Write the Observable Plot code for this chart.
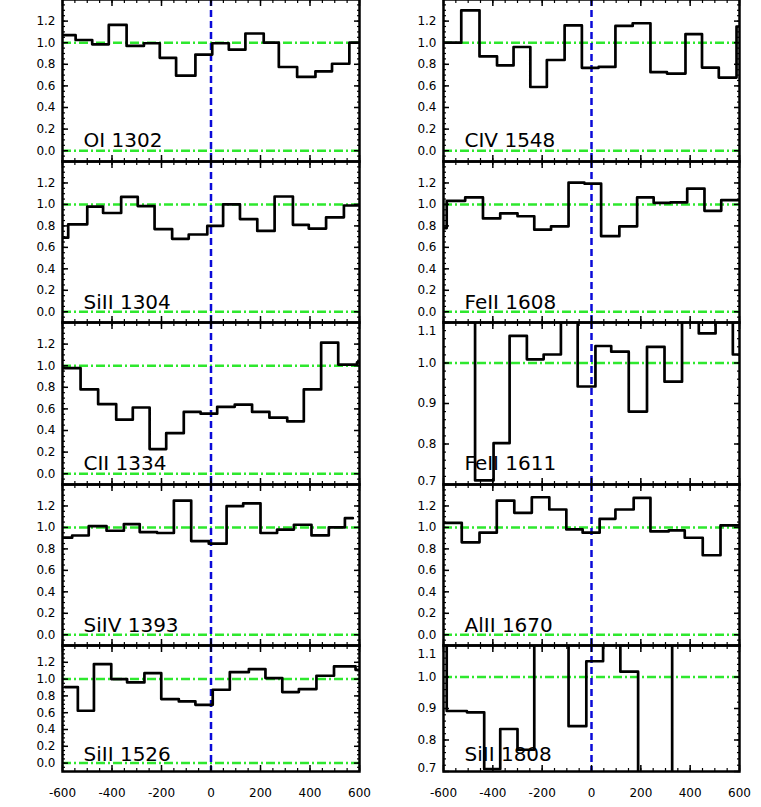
<!DOCTYPE html>
<html>
<head>
<meta charset="utf-8">
<script src="https://cdn.jsdelivr.net/npm/d3@7"></script>
<script src="https://cdn.jsdelivr.net/npm/@observablehq/plot@0.6"></script>
<style>
  html, body { margin: 0; padding: 0; background: #fff; }
  #chart { position: relative; width: 761px; height: 807px; overflow: hidden; font-family: "DejaVu Sans", sans-serif; }
  #chart svg { position: absolute; }
</style>
</head>
<body>
<div id="chart"></div>
<script>
// ---- tick labels ----
const velocityTicks = [-600, -400, -200, 0, 200, 400, 600];
const fluxTicksFull = [0.0, 0.2, 0.4, 0.6, 0.8, 1.0, 1.2];
const fluxTicksZoom = [0.7, 0.8, 0.9, 1.0, 1.1];
const guideLevels = [0, 1];
const systemicVelocity = [0];

// ---- panel labels ----
const panelLabels = ["OI 1302", "CIV 1548", "SiII 1304", "FeII 1608", "CII 1334",
                     "FeII 1611", "SiIV 1393", "AlII 1670", "SiII 1526", "SiII 1808"];

// ---- data: bin edges (km/s) and normalized flux per bin ----
const OI1302_edges = [-600, -547, -480, -413, -341, -271, -207, -141, -63, 5, 72, 139, 213, 274, 348, 422, 489, 559, 600];
const OI1302_flux  = [1.07, 1.025, 0.985, 1.165, 0.97, 0.995, 0.86, 0.695, 0.89, 0.995, 0.935, 1.085, 1.0, 0.775, 0.683, 0.735, 0.805, 1.0];

const CIV1548_edges = [-600, -528, -454, -383, -316, -248, -181, -109, -39, 29, 97, 167, 239, 306, 381, 448, 516, 588, 600];
const CIV1548_flux  = [1.0, 1.30, 0.873, 0.79, 0.96, 0.59, 0.84, 1.16, 0.767, 0.776, 1.155, 1.18, 0.727, 0.714, 1.08, 0.77, 0.677, 1.15];

const SiII1304_edges = [-600, -577, -500, -436, -363, -296, -228, -157, -90, -15, 49, 117, 187, 257, 331, 395, 465, 537, 600];
const SiII1304_flux  = [0.69, 0.815, 0.98, 0.92, 1.07, 0.985, 0.77, 0.68, 0.72, 0.80, 1.0, 0.864, 0.753, 1.074, 0.81, 0.775, 0.88, 0.99];

const FeII1608_edges = [-600, -587, -512, -440, -370, -300, -232, -164, -93, -29, 39, 113, 185, 252, 320, 388, 458, 526, 600];
const FeII1608_flux  = [0.78, 1.034, 1.065, 0.87, 0.917, 0.89, 0.765, 0.796, 1.204, 1.194, 0.704, 0.796, 1.065, 1.015, 1.02, 1.148, 0.94, 1.04];

const CII1334_edges = [-600, -527, -456, -383, -316, -248, -181, -110, -42, 25, 96, 166, 236, 308, 375, 445, 514, 590, 600];
const CII1334_flux  = [0.978, 0.78, 0.644, 0.50, 0.613, 0.228, 0.375, 0.572, 0.556, 0.619, 0.64, 0.572, 0.519, 0.484, 0.78, 1.213, 1.01, 1.03];

const FeII1611_edges = [-600, -472, -397, -332, -262, -194, -124, -56, 16, 80, 151, 225, 296, 367, 435, 503, 573, 600];
const FeII1611_flux  = [1.2, 0.71, 0.802, 1.067, 1.009, 1.021, 1.2, 0.942, 1.042, 1.028, 0.88, 1.04, 0.954, 1.15, 1.073, 1.15, 1.021];

const SiIV1393_edges = [-600, -561, -494, -422, -352, -288, -218, -150, -80, -9, 63, 130, 200, 267, 335, 406, 476, 541, 573];
const SiIV1393_flux  = [0.905, 0.925, 1.012, 0.969, 1.031, 0.957, 0.948, 1.25, 0.873, 0.849, 1.198, 1.225, 0.948, 0.98, 1.025, 0.926, 1.0, 1.086];

const AlII1670_edges = [-600, -526, -454, -384, -313, -242, -171, -102, -36, 33, 97, 171, 239, 313, 378, 451, 523, 600];
const AlII1670_flux  = [1.043, 0.861, 0.951, 1.25, 1.136, 1.281, 1.167, 0.981, 0.951, 1.08, 1.167, 1.275, 0.963, 0.972, 0.904, 0.741, 1.019];

const SiII1526_edges = [-590, -538, -473, -403, -339, -269, -201, -130, -63, 7, 76, 153, 220, 288, 355, 426, 497, 584, 600];
const SiII1526_flux  = [0.905, 0.623, 1.179, 1.0, 0.96, 1.071, 0.762, 0.734, 0.694, 0.873, 1.083, 1.119, 1.012, 0.845, 0.881, 1.04, 1.151, 1.11];

const SiII1808_edges = [-600, -587, -505, -435, -370, -300, -232, -93, -21, 47, 117, 189, 327, 600];
const SiII1808_flux  = [1.15, 0.892, 0.888, 0.708, 0.835, 0.769, 1.15, 0.844, 1.05, 1.15, 1.017, 0.6, 1.15];

// ---- panel assembly ----
const panels = [
  {label: panelLabels[0], edges: OI1302_edges,   flux: OI1302_flux,   col: 0, row: 0, zoom: false},
  {label: panelLabels[1], edges: CIV1548_edges,  flux: CIV1548_flux,  col: 1, row: 0, zoom: false},
  {label: panelLabels[2], edges: SiII1304_edges, flux: SiII1304_flux, col: 0, row: 1, zoom: false},
  {label: panelLabels[3], edges: FeII1608_edges, flux: FeII1608_flux, col: 1, row: 1, zoom: false},
  {label: panelLabels[4], edges: CII1334_edges,  flux: CII1334_flux,  col: 0, row: 2, zoom: false},
  {label: panelLabels[5], edges: FeII1611_edges, flux: FeII1611_flux, col: 1, row: 2, zoom: true},
  {label: panelLabels[6], edges: SiIV1393_edges, flux: SiIV1393_flux, col: 0, row: 3, zoom: false},
  {label: panelLabels[7], edges: AlII1670_edges, flux: AlII1670_flux, col: 1, row: 3, zoom: false},
  {label: panelLabels[8], edges: SiII1526_edges, flux: SiII1526_flux, col: 0, row: 4, zoom: false},
  {label: panelLabels[9], edges: SiII1808_edges, flux: SiII1808_flux, col: 1, row: 4, zoom: true}
];

const colLayout = [
  {left: 0,   width: 380, ml: 62, mr: 21},
  {left: 380, width: 381, ml: 63, mr: 22}
];
const rowLayout = [
  {top: -1,  h: 162},
  {top: 161, h: 161},
  {top: 322, h: 162},
  {top: 484, h: 161},
  {top: 645, h: 126}
];

const GREEN = "#2ee82e";
const BLUE = "#0a0ad8";
const chart = document.getElementById("chart");

for (const p of panels) {
  const c = colLayout[p.col], r = rowLayout[p.row];
  const bottomRow = p.row === rowLayout.length - 1;
  const mt = 4, mb = bottomRow ? 40 : 4;
  const yDomain = p.zoom ? [0.7, 1.1] : [-0.1, 1.4];
  const yMajor = p.zoom ? fluxTicksZoom : fluxTicksFull;
  const yMinor = p.zoom ? d3.range(0.7, 1.1001, 0.02) : d3.range(-0.1, 1.4001, 0.05);
  const xMinor = d3.range(-600, 601, 50);

  const pts = p.flux.map((f, i) => ({v: p.edges[i], f}));
  pts.push({v: p.edges[p.edges.length - 1], f: p.flux[p.flux.length - 1]});

  const noText = () => "";
  const fmt = d3.format(".1f");
  const labelOpts = {anchor: "left", tickSize: 0, tickPadding: 7, tickFormat: fmt, fontSize: 12, label: null};
  const marks = [
    Plot.ruleY(guideLevels.filter(g => g >= yDomain[0] && g <= yDomain[1]),
      {stroke: GREEN, strokeWidth: 2.5, strokeDasharray: "9,3,2,3"}),
    Plot.ruleX(systemicVelocity, {stroke: BLUE, strokeWidth: 2.5, strokeDasharray: "7,4"}),
    Plot.line(pts, {x: "v", y: "f", curve: "step-after", stroke: "black", strokeWidth: 2.7, clip: true}),
    // inward ticks
    Plot.axisY(yMajor, {anchor: "left", tickSize: -6, tickFormat: noText, label: null, strokeWidth: 1.5}),
    Plot.axisY(yMajor, {anchor: "right", tickSize: -6, tickFormat: noText, label: null, strokeWidth: 1.5}),
    Plot.axisY(yMinor, {anchor: "left", tickSize: -3, tickFormat: noText, label: null, strokeWidth: 1.2}),
    Plot.axisY(yMinor, {anchor: "right", tickSize: -3, tickFormat: noText, label: null, strokeWidth: 1.2}),
    Plot.axisX(velocityTicks, {anchor: "bottom", tickSize: -6, tickFormat: noText, label: null, strokeWidth: 1.5}),
    Plot.axisX(velocityTicks, {anchor: "top", tickSize: -6, tickFormat: noText, label: null, strokeWidth: 1.5}),
    Plot.axisX(xMinor, {anchor: "bottom", tickSize: -3, tickFormat: noText, label: null, strokeWidth: 1.2}),
    Plot.axisX(xMinor, {anchor: "top", tickSize: -3, tickFormat: noText, label: null, strokeWidth: 1.2}),
    // panel label
    Plot.text([p.label], {frameAnchor: "bottom-left", dx: 21, dy: -Math.round(0.09 * r.h), textAnchor: "start",
      lineAnchor: "bottom", fontSize: 20, fill: "black"}),
    Plot.frame({stroke: "black", strokeWidth: 2.5})
  ];
  // y tick labels
  if (p.zoom) {
    const lo = yMajor[0], hi = yMajor[yMajor.length - 1];
    marks.push(Plot.axisY(yMajor.filter(t => t !== lo && t !== hi), labelOpts));
    marks.push(Plot.axisY([hi], {...labelOpts, dy: 9}));
    marks.push(Plot.axisY([lo], {...labelOpts, dy: -3}));
  } else {
    marks.push(Plot.axisY(yMajor, labelOpts));
  }
  if (bottomRow) {
    marks.push(Plot.axisX(velocityTicks, {anchor: "bottom", tickSize: 0, tickPadding: 17,
      tickFormat: d => String(d), fontSize: 12, label: null}));
  }

  const svg = Plot.plot({
    width: c.width,
    height: r.h + mt + mb,
    marginLeft: c.ml,
    marginRight: c.mr,
    marginTop: mt,
    marginBottom: mb,
    x: {domain: [-600, 600], axis: null},
    y: {domain: yDomain, axis: null},
    style: {background: "none", overflow: "visible", fontFamily: "DejaVu Sans, sans-serif", color: "black"},
    marks
  });
  svg.style.left = c.left + "px";
  svg.style.top = (r.top - mt) + "px";
  chart.appendChild(svg);
}
</script>
</body>
</html>
